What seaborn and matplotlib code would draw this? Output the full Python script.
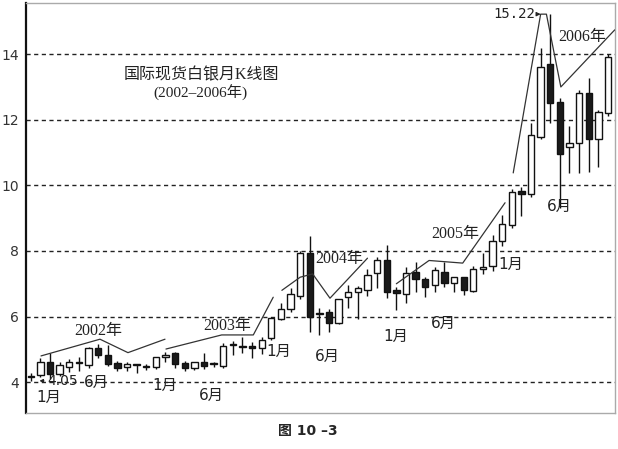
import numpy as np
import pandas as pd
import matplotlib
matplotlib.use("Agg")
import matplotlib.pyplot as plt
import seaborn as sns

# -----------------------------------
# data: monthly silver candles, Nov 2001 .. Nov 2006
# -----------------------------------
opens = [4.18, 4.22, 4.62, 4.26, 4.47, 4.58, 4.52, 5.04, 4.82, 4.58, 4.45, 4.52, 4.46, 4.45,
         4.77, 4.88, 4.58, 4.43, 4.60, 4.54, 4.50, 5.12, 5.08, 5.10, 5.04, 5.34,
         5.92, 6.22, 6.62, 7.93, 6.08, 6.14, 5.80, 6.60, 6.76, 6.80, 7.32, 7.72,
         6.80, 6.70, 7.36, 7.14, 6.96, 7.36, 7.02, 7.20, 6.79, 7.45, 7.53, 8.30,
         8.79, 9.83, 9.75, 11.48, 13.70, 12.55, 11.16, 11.30, 12.82, 11.40, 12.21]
highs = [4.28, 4.75, 4.88, 4.60, 4.72, 4.77, 5.07, 5.16, 5.13, 4.66, 4.62, 4.53, 4.55, 4.78,
         4.93, 4.92, 4.65, 4.62, 4.88, 4.62, 5.18, 5.25, 5.38, 5.22, 5.38, 5.98,
         6.40, 6.87, 8.00, 8.45, 6.26, 6.22, 6.55, 6.96, 6.92, 7.45, 7.82, 8.18,
         6.90, 7.50, 7.67, 7.22, 7.52, 7.67, 7.21, 7.21, 7.55, 7.93, 8.48, 9.10,
         9.90, 9.96, 11.90, 14.20, 15.22, 12.65, 11.80, 12.90, 13.26, 12.30, 14.00]
lows = [4.05, 4.17, 4.10, 4.20, 4.32, 4.33, 4.42, 4.75, 4.50, 4.33, 4.33, 4.27, 4.38, 4.40,
        4.60, 4.42, 4.33, 4.38, 4.40, 4.45, 4.42, 4.82, 4.90, 4.73, 4.85, 5.28,
        5.90, 6.15, 6.55, 5.53, 5.45, 5.53, 5.78, 6.25, 5.93, 6.62, 6.86, 6.56,
        6.20, 6.40, 6.75, 6.61, 6.76, 6.91, 6.75, 6.65, 6.75, 7.30, 7.40, 8.15,
        8.70, 9.06, 9.65, 11.40, 11.90, 9.30, 10.37, 10.37, 10.40, 10.56, 12.10]
closes = [4.15, 4.62, 4.25, 4.52, 4.62, 4.62, 5.04, 4.83, 4.56, 4.42, 4.55, 4.53, 4.47, 4.76,
          4.82, 4.55, 4.43, 4.62, 4.48, 4.56, 5.10, 5.14, 5.09, 5.04, 5.30, 5.95,
          6.22, 6.68, 7.93, 5.98, 6.10, 5.80, 6.53, 6.75, 6.87, 7.27, 7.72, 6.75,
          6.72, 7.32, 7.16, 6.90, 7.41, 7.02, 7.21, 6.80, 7.45, 7.52, 8.30, 8.82,
          9.80, 9.73, 11.53, 13.61, 12.50, 10.95, 11.30, 12.82, 11.40, 12.24, 13.90]

# yearly trend sketches (month index, price)
trend_2002 = [(1.06, 4.80), (7.19, 5.31), (10.1, 4.90), (13.95, 5.31)]
trend_2003 = [(14.05, 5.01), (19.84, 5.44), (23.13, 5.44), (25.2, 6.59)]
trend_2004 = [(26.1, 6.80), (28.0, 7.20), (29.3, 7.30), (31.1, 6.56), (35.0, 7.78)]
trend_2005 = [(38.0, 7.00), (41.4, 7.71), (44.9, 7.63), (49.3, 9.47)]
trend_2006 = [(50.15, 10.38), (53.0, 15.22), (53.6, 15.22), (55.1, 13.0), (60.7, 14.74)]

year_labels = ["2002年", "2003年", "2004年", "2005年", "2006年"]
year_label_pos = [(6.98, 5.57), (20.4, 5.72), (32.1, 7.76), (44.1, 8.52), (57.3, 14.53)]
month_labels = ["1月", "6月", "1月", "6月", "1月", "6月", "1月", "6月", "1月", "6月"]
month_label_pos = [(1.9, 3.52), (6.8, 3.98), (13.95, 3.89), (18.8, 3.61), (25.8, 4.95),
                   (30.8, 4.77), (37.96, 5.38), (42.85, 5.78), (49.9, 7.58), (54.9, 9.35)]
y_ticks = [4, 6, 8, 10, 12, 14]

df = pd.DataFrame({"open": opens, "high": highs, "low": lows, "close": closes})
df["idx"] = np.arange(len(df))
df["up"] = df["close"] >= df["open"]

# -----------------------------------
# figure
# -----------------------------------
sns.set_theme(style="white")
plt.rcParams["font.family"] = ["DejaVu Sans", "Noto Sans CJK SC"]

fig = plt.figure(figsize=(6.18, 4.49), dpi=100)
ax = fig.add_axes([26 / 618, 36 / 449, 589 / 618, 410 / 449])

for t in y_ticks:
    ax.axhline(t, color="#222222", lw=1.0, ls=(0, (3, 2.5)), zorder=1)

# wicks
ax.vlines(df["idx"], df["low"], df["high"], color="#111111", lw=1.0, zorder=2)

# bodies
w = 0.66
body_lo = np.minimum(df["open"], df["close"])
body_h = np.maximum((df["close"] - df["open"]).abs(), 0.035)
colors = np.where(df["up"], "white", "#1a1a1a")
ax.bar(df["idx"], body_h, bottom=body_lo, width=w, color=colors,
       edgecolor="#111111", linewidth=1.0, zorder=3)

# trend sketches
for tr in [trend_2002, trend_2003, trend_2004, trend_2005, trend_2006]:
    tdf = pd.DataFrame(tr, columns=["x", "y"])
    sns.lineplot(data=tdf, x="x", y="y", sort=False, estimator=None,
                 color="#333333", lw=0.9, ax=ax, zorder=4)

serif_cjk = ["Liberation Serif", "Noto Sans CJK SC"]
for lab, (x, y) in zip(year_labels, year_label_pos):
    ax.text(x, y, lab, ha="center", va="center", fontsize=11.5,
            family=serif_cjk, color="#222222", zorder=5)

for lab, (x, y) in zip(month_labels, month_label_pos):
    ax.text(x, y, lab, ha="center", va="center", fontsize=11,
            family=["DejaVu Sans", "Noto Sans CJK SC"], color="#222222", zorder=5)

ax.annotate("15.22", xy=(53.0, 15.22), xytext=(52.4, 15.22), ha="right", va="center",
            fontsize=10, family="DejaVu Sans Mono", color="#222222",
            arrowprops=dict(arrowstyle="-|>", color="#222222", lw=0.8,
                            shrinkA=0, shrinkB=0, mutation_scale=6))
ax.annotate("4.05", xy=(0.9, 4.04), xytext=(3.3, 4.04), ha="center", va="center",
            fontsize=10, family="DejaVu Sans", color="#222222",
            arrowprops=dict(arrowstyle="-|>", color="#222222", lw=0.8,
                            shrinkA=12, shrinkB=0, mutation_scale=5))

ax.text(0.297, 0.824, "国际现货白银月K线图", transform=ax.transAxes, ha="center",
        va="center", fontsize=11.5, family=serif_cjk, color="#222222")
ax.text(0.297, 0.78, "(2002–2006年)", transform=ax.transAxes, ha="center",
        va="center", fontsize=11, family=serif_cjk, color="#222222")

ax.set_xlim(-0.5, 60.73)
ax.set_ylim(3.06, 15.56)
ax.set_yticks(y_ticks)
ax.set_xticks([])
ax.set_xlabel("")
ax.set_ylabel("")
ax.tick_params(axis="y", length=0, pad=5, labelsize=10, labelcolor="#333333")

for s in ["top", "right", "bottom"]:
    ax.spines[s].set_color("#aaaaaa")
    ax.spines[s].set_linewidth(1.0)
ax.spines["left"].set_color("#111111")
ax.spines["left"].set_linewidth(1.6)

fig.text(308 / 618, 1 - 431 / 449, "图 10 –3", ha="center", va="center",
         fontsize=10, fontweight="bold", family=["DejaVu Sans", "Noto Sans CJK SC"])

fig.savefig("out.png", dpi=100)
